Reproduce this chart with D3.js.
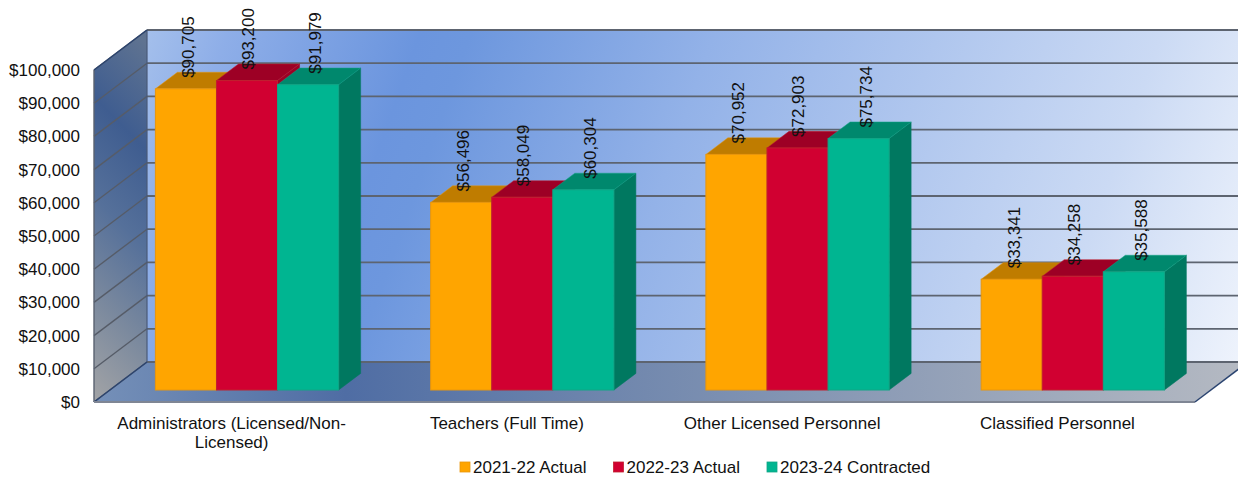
<!DOCTYPE html>
<html>
<head>
<meta charset="utf-8">
<script src="https://d3js.org/d3.v7.min.js"></script>
<style>
  body { margin: 0; background: #fff; }
  text { font-family: "Liberation Sans", Arial, sans-serif; fill: #111; }
  .domain { display: none; }
</style>
</head>
<body>
<div id="container"></div>
<script>
/***** data *****/
const categories = ["Administrators (Licensed/Non-Licensed)", "Teachers (Full Time)", "Other Licensed Personnel", "Classified Personnel"];
const seriesNames = ["2021-22 Actual", "2022-23 Actual", "2023-24 Contracted"];
const actual2122 = [90705, 56496, 70952, 33341];
const actual2223 = [93200, 58049, 72903, 34258];
const contracted2324 = [91979, 60304, 75734, 35588];
const yTicks = [0, 10000, 20000, 30000, 40000, 50000, 60000, 70000, 80000, 90000, 100000];

const seriesValues = [actual2122, actual2223, contracted2324];
const colors = [
  {front: "#ffa500", top: "#bf7c00", side: "#bf7c00", edge: "#e8960c"},
  {front: "#d10031", top: "#9d0025", side: "#9d0025", edge: "#c0202f"},
  {front: "#00b591", top: "#00886d", side: "#007860", edge: "#10a585"}
];
const labelShift = [2, 1, 7];

const width = 1238, height = 477;
const fontSize = 17;
const fmt = d3.format("$,");

const svg = d3.select("#container").append("svg")
  .attr("width", width)
  .attr("height", height)
  .style("display", "block");

/***** scales *****/
const plot = {left: 94, right: 1195, bottom: 402, top: 70, dx: 53, dy: 40};

const x = d3.scaleBand().domain(d3.range(categories.length)).range([plot.left, plot.right]);
const xName = d3.scaleBand().domain(categories).range([plot.left, plot.right]);
const inner = d3.scaleBand().domain(d3.range(3)).range([45.5, x.bandwidth() - 46.5]);
const y = d3.scaleLinear().domain([0, 100000]).range([plot.bottom, plot.top]);

// depth 0 is the front edge of the floor, depth 1 the back wall
const px = (xv, depth) => xv + plot.dx * depth;
const py = (v, depth) => y(v) - plot.dy * depth;
const pts = a => a.map(p => p.join(",")).join(" ");

/***** gradients *****/
const defs = svg.append("defs");
function gradient(id, x1, y1, x2, y2, stops) {
  const g = defs.append("linearGradient").attr("id", id)
    .attr("gradientUnits", "userSpaceOnUse")
    .attr("x1", x1).attr("y1", y1).attr("x2", x2).attr("y2", y2);
  stops.forEach(s => g.append("stop").attr("offset", s[0]).attr("stop-color", s[1]));
}
gradient("wallGrad", 100, -40, 1238, 362, [[0.05, "#a6c1ec"], [0.12, "#8eaee8"], [0.27, "#6b95de"], [0.31, "#6d97de"], [0.5, "#93b2e8"], [0.85, "#cbdaf4"], [1, "#eef3fc"]]);
gradient("floorGrad", 94, 402, 1238, 362, [[0, "#7590b8"], [0.22, "#4f6da4"], [0.45, "#6f86ad"], [1, "#b4b9c2"]]);
gradient("sideGrad", 300, 200, 94, 402, [[0, "#5f7391"], [0.26, "#3f5d90"], [0.5, "#55709a"], [0.75, "#7c8a9e"], [1, "#a3a4a6"]]);

/***** walls and floor *****/
const x0 = plot.left, x1 = plot.right, wallRight = px(plot.right, 1);

svg.append("polygon")
  .attr("points", pts([[px(x0, 1), py(100000, 1)], [wallRight, py(100000, 1)], [wallRight, py(0, 1)], [px(x0, 1), py(0, 1)]]))
  .attr("fill", "url(#wallGrad)");
svg.append("polygon")
  .attr("points", pts([[x0, y(100000)], [px(x0, 1), py(100000, 1)], [px(x0, 1), py(0, 1)], [x0, y(0)]]))
  .attr("fill", "url(#sideGrad)");
svg.append("polygon")
  .attr("points", pts([[x0, y(0)], [x1, y(0)], [wallRight, py(0, 1)], [px(x0, 1), py(0, 1)]]))
  .attr("fill", "url(#floorGrad)");

// grid lines on the back wall and down the side wall
const grid = svg.append("g").attr("fill", "none");
grid.selectAll(".back").data(yTicks).join("line")
  .attr("x1", px(x0, 1)).attr("x2", wallRight)
  .attr("y1", d => py(d, 1)).attr("y2", d => py(d, 1))
  .attr("stroke", "#5d6470").attr("stroke-width", 1.8);
grid.selectAll(".side").data(yTicks).join("line")
  .attr("x1", x0).attr("x2", px(x0, 1))
  .attr("y1", d => y(d)).attr("y2", d => py(d, 1))
  .attr("stroke", "#565c68").attr("stroke-width", 1.4);

// wall outline
svg.append("line").attr("x1", x0).attr("x2", x0).attr("y1", y(100000)).attr("y2", y(0))
  .attr("stroke", "#5a6270").attr("stroke-width", 1.4);
svg.append("line").attr("x1", px(x0, 1)).attr("x2", px(x0, 1)).attr("y1", py(100000, 1)).attr("y2", py(0, 1))
  .attr("stroke", "#4a5a78").attr("stroke-width", 1.2);
svg.append("line").attr("x1", x0).attr("x2", px(x0, 1)).attr("y1", y(100000)).attr("y2", py(100000, 1))
  .attr("stroke", "#2b4470").attr("stroke-width", 1.4);
svg.append("line").attr("x1", x0).attr("x2", px(x0, 1)).attr("y1", y(0)).attr("y2", py(0, 1))
  .attr("stroke", "#2b4470").attr("stroke-width", 1.4);
svg.append("line").attr("x1", x0).attr("x2", x1).attr("y1", y(0)).attr("y2", y(0))
  .attr("stroke", "#7f8694").attr("stroke-width", 2);
svg.append("line").attr("x1", x1).attr("x2", wallRight).attr("y1", y(0)).attr("y2", py(0, 1))
  .attr("stroke", "#2b4470").attr("stroke-width", 1.5);

/***** bars *****/
const front = 0.3, back = 0.715;
const bars = [];
categories.forEach((c, i) => seriesValues.forEach((vals, s) => {
  bars.push({i: i, s: s, value: vals[i], x0: x(i) + inner(s), x1: x(i) + inner(s) + inner.bandwidth()});
}));

const barG = svg.append("g").selectAll("g").data(bars).join("g");
barG.append("polygon") // right side
  .attr("points", d => pts([[px(d.x1, front), py(d.value, front)], [px(d.x1, back), py(d.value, back)], [px(d.x1, back), py(0, back)], [px(d.x1, front), py(0, front)]]))
  .attr("fill", d => colors[d.s].side)
  .attr("stroke", d => colors[d.s].side).attr("stroke-width", 0.5);
barG.append("polygon") // top
  .attr("points", d => pts([[px(d.x0, front), py(d.value, front)], [px(d.x0, back), py(d.value, back)], [px(d.x1, back), py(d.value, back)], [px(d.x1, front), py(d.value, front)]]))
  .attr("fill", d => colors[d.s].top)
  .attr("stroke", d => colors[d.s].edge).attr("stroke-width", 0.5);
barG.append("rect") // front
  .attr("x", d => px(d.x0, front))
  .attr("y", d => py(d.value, front))
  .attr("width", inner.bandwidth())
  .attr("height", d => y(0) - y(d.value))
  .attr("fill", d => colors[d.s].front)
  .attr("stroke", d => colors[d.s].edge).attr("stroke-width", 1);

/***** value labels *****/
svg.append("g").selectAll("text").data(bars).join("text")
  .attr("transform", d => "translate(" + (px(d.x0, front) + inner.bandwidth() / 2 + labelShift[d.s]) + "," + (py(d.value, front) - 11) + ") rotate(-90)")
  .attr("dy", "0.35em")
  .attr("font-size", fontSize)
  .text(d => fmt(d.value));

/***** axes *****/
svg.append("g")
  .attr("transform", "translate(" + (plot.left - 14) + ",0)")
  .call(d3.axisLeft(y).tickValues(yTicks).tickFormat(fmt).tickSize(0).tickPadding(0))
  .selectAll("text")
  .attr("font-size", fontSize)
  .style("font-family", '"Liberation Sans", Arial, sans-serif')
  .attr("fill", "#111");

const xAxis = svg.append("g")
  .attr("transform", "translate(0," + (plot.bottom + 14.5) + ")")
  .call(d3.axisBottom(xName).tickSize(0).tickPadding(0));
xAxis.selectAll("text")
  .attr("font-size", fontSize)
  .attr("fill", "#111")
  .style("font-family", '"Liberation Sans", Arial, sans-serif')
  .each(function(d) {
    const t = d3.select(this), lines = d.split(/(?<=-)/);
    t.text(null);
    lines.forEach((l, k) => t.append("tspan").attr("x", 0).attr("dy", k ? 19 : "0.71em").text(l));
  });

/***** legend *****/
const legend = d3.scalePoint().domain(seriesNames).range([460, 767]);
const item = svg.append("g").selectAll("g").data(seriesNames).join("g")
  .attr("transform", d => "translate(" + legend(d) + ",462)");
item.append("rect")
  .attr("width", 10).attr("height", 10)
  .attr("fill", (d, i) => colors[i].front)
  .attr("stroke", (d, i) => colors[i].edge).attr("stroke-width", 0.8);
item.append("text")
  .attr("x", 13).attr("y", 11)
  .attr("font-size", fontSize)
  .text(d => d);
</script>
</body>
</html>
